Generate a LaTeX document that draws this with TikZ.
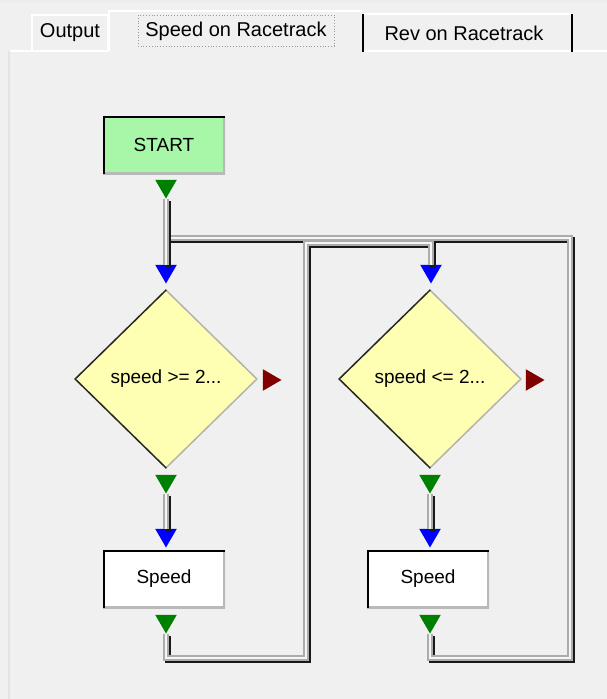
\documentclass[tikz,border=0pt]{standalone}
\usepackage{fontspec}
\setmainfont{Liberation Sans}
\usetikzlibrary{shapes.geometric}

\definecolor{panelgray}{RGB}{240,240,240}
\definecolor{startgreen}{RGB}{168,247,168}
\definecolor{condyellow}{RGB}{255,255,180}
\definecolor{portgreen}{RGB}{0,128,0}
\definecolor{portblue}{RGB}{0,0,255}
\definecolor{portred}{RGB}{128,0,0}

\tikzset{
  tabtext/.style={inner sep=0pt, font=\fontsize{20}{22}\selectfont},
  block/.style={rectangle, inner sep=0pt, minimum width=122pt, minimum height=58pt,
    font=\fontsize{19}{21}\selectfont,
    path picture={
      \draw[gray!55, line width=4pt] (path picture bounding box.south west) -- (path picture bounding box.south east) -- (path picture bounding box.north east);
      \draw[black, line width=4pt] (path picture bounding box.south west) -- (path picture bounding box.north west) -- (path picture bounding box.north east);
    }},
  cond/.style={diamond, fill=condyellow, inner sep=0pt, minimum width=184pt, minimum height=180pt,
    font=\fontsize{19}{21}\selectfont,
    path picture={
      \draw[gray!60, line width=3pt] (path picture bounding box.north) -- (path picture bounding box.east) -- (path picture bounding box.south);
      \draw[black!85, line width=3pt] (path picture bounding box.north) -- (path picture bounding box.west) -- (path picture bounding box.south);
    }},
  port/.style={regular polygon, regular polygon sides=3, minimum size=25pt, inner sep=0pt},
  outport/.style={port, fill=portgreen, shape border rotate=180},
  inport/.style={port, fill=portblue, shape border rotate=180},
  noport/.style={port, fill=portred, shape border rotate=-90},
  pipe/.style={draw=gray!65, line width=6pt,
    preaction={draw=black!90, line width=6pt, transform canvas={shift={(2.2pt,-2.2pt)}}},
    postaction={draw=white!93!gray, line width=2.2pt}}
}

\begin{document}
\begin{tikzpicture}[x=1pt, y=-1pt]

\useasboundingbox (0,0) rectangle (607,699);
\fill[panelgray] (0,0) rectangle (607,699);
\fill[gray!14] (0,0) rectangle (607,3);

\draw[gray!22, line width=1.5pt] (9,51) -- (9,699);
\draw[white, line width=1.5pt] (10,51) -- (108,51);
\draw[white, line width=1.5pt] (363,51) -- (607,51);
\draw[white, line width=1.5pt] (32,51) -- (32,15) -- (108,15) -- (108,51);
\draw[white, line width=1.5pt] (109,51) -- (109,11) -- (362,11);
\draw[white, line width=1.5pt] (364,14) -- (571,14);
\draw[black, line width=2pt] (363,14) -- (363,52);
\draw[black, line width=2pt] (572,14) -- (572,52);
\draw[gray!80, dotted, line width=0.8pt] (138,15) rectangle (334,46);

\node[tabtext] (tabout) at (70,33) {Output};
\node[tabtext] (tabspeed) at (236,31) {Speed on Racetrack};
\node[tabtext] (tabrev) at (464,33) {Rev on Racetrack};

\node[block, fill=startgreen] (start) at (164,145) {START};
\node[outport] (startout) at (166,186) {};

\node[inport] (d1in) at (166,271) {};
\node[cond] (d1) at (166,379) {speed >= 2...};
\node[noport] (d1no) at (269,380) {};
\node[outport] (d1yes) at (166,481) {};

\node[inport] (sp1in) at (166,535) {};
\node[block, fill=white] (sp1) at (164,579) {Speed};
\node[outport] (sp1out) at (166,621) {};

\node[inport] (d2in) at (431,271) {};
\node[cond] (d2) at (430,379) {speed <= 2...};
\node[noport] (d2no) at (532,380) {};
\node[outport] (d2yes) at (430,481) {};

\node[inport] (sp2in) at (430,535) {};
\node[block, fill=white] (sp2) at (428,579) {Speed};
\node[outport] (sp2out) at (430,621) {};

\coordinate (join) at (166,238);
\coordinate (loopa) at (306,658);
\coordinate (loopb) at (431,243);
\coordinate (loopc) at (570,658);

\draw[pipe] (sp2out.south) |- (loopc) |- (join);
\draw[pipe] (startout.south) -- (d1in.north);
\draw[pipe] (sp1out.south) |- (loopa) |- (loopb) -- (d2in.north);
\draw[pipe] (d1yes.south) -- (sp1in.north);
\draw[pipe] (d2yes.south) -- (sp2in.north);

\end{tikzpicture}
\end{document}
